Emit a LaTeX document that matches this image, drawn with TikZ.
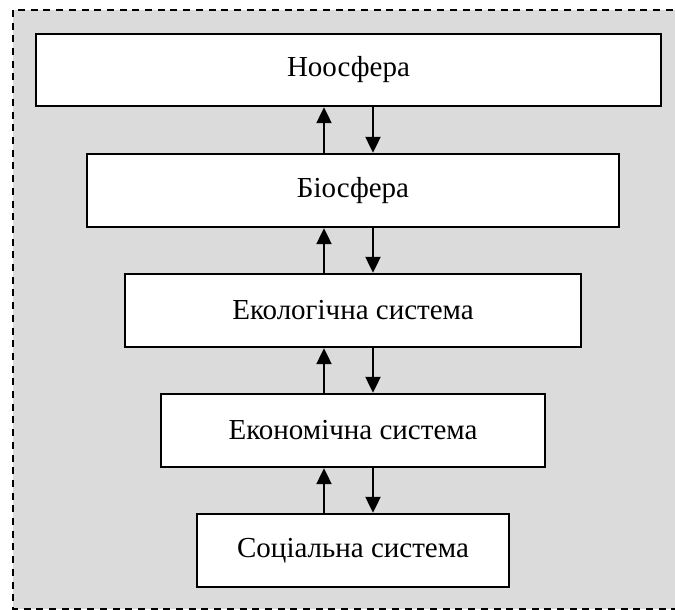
\documentclass[tikz,border=0pt]{standalone}
\usepackage{fontspec}
\setmainfont{Liberation Serif}
\usetikzlibrary{arrows.meta}
\begin{document}
\begin{tikzpicture}[x=1pt,y=-1pt,
  level/.style={draw=black, fill=white, line width=2.4pt, minimum height=73pt,
    inner sep=0pt, font=\fontsize{29}{34}\selectfont},
  link/.style={line width=2.2pt, -{Triangle[width=15pt,length=16pt]}},
  frame/.style={draw=black, line width=2pt, dash pattern=on 7pt off 5.7pt, fill=black!14}]
  \useasboundingbox (0,0) rectangle (675,610);
  % shaded dashed frame around the hierarchy
  \draw[frame] (13,10) rectangle (690,609);
  % levels of the hierarchy, top to bottom
  \node[level, minimum width=625pt, minimum height=72pt] (noo) at (348.5,70) {Ноосфера};
  \node[level, minimum width=532pt] (bio) at (353,190.5) {Біосфера};
  \node[level, minimum width=456pt] (eco) at (353,310.5) {Екологічна система};
  \node[level, minimum width=384pt] (econ) at (353,430.5) {Економічна система};
  \node[level, minimum width=312pt] (soc) at (353,550.5) {Соціальна система};
  % columns of the upward and downward links
  \coordinate (up) at (324,0);
  \coordinate (dn) at (373,0);
  % two-way links between neighbouring levels
  \foreach \lo/\hi in {bio/noo, eco/bio, econ/eco, soc/econ}{
    \draw[link] (\lo.north -| up) -- (\hi.south -| up);
    \draw[link] (\hi.south -| dn) -- (\lo.north -| dn);
  }
\end{tikzpicture}
\end{document}
